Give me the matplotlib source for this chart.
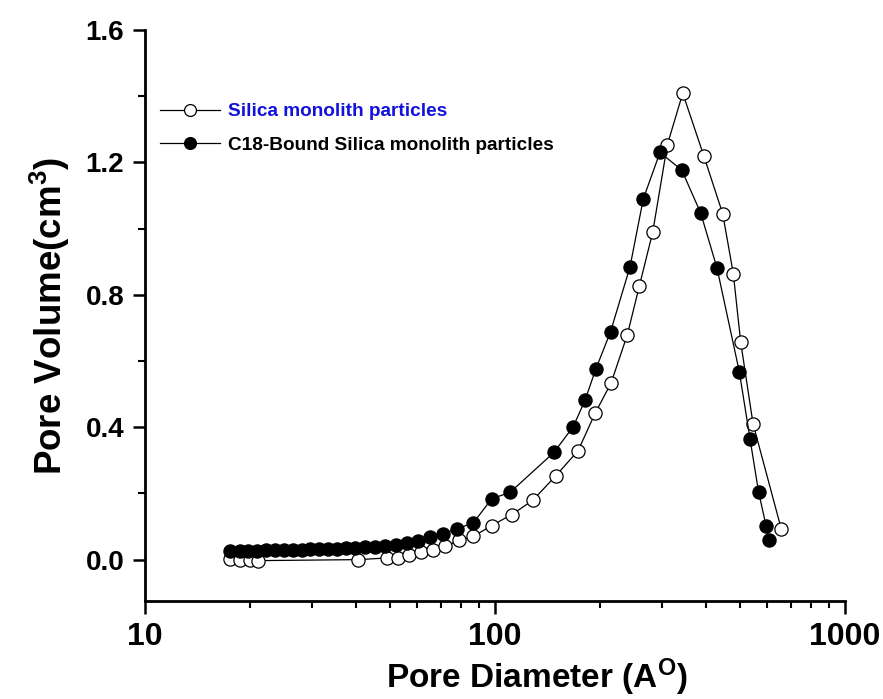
import matplotlib
matplotlib.use("Agg")
import matplotlib.pyplot as plt
from matplotlib.ticker import LogLocator, FixedLocator, NullFormatter, MultipleLocator

# ---- data ----
silica_d = [17.5, 18.7, 19.9, 21.1, 40.7, 49.1, 52.9, 56.8, 61.5, 66.6, 72.0, 79.1,
            86.7, 97.9, 111.6, 128.2, 149.4, 172.7, 193.4, 214.5, 238.8, 258.5,
            282.2, 310.7, 343.9, 395.5, 447.3, 479.6, 503.5, 546.0, 657.4]
silica_v = [0.003, 0.000, -0.002, -0.003, 0.000, 0.005, 0.006, 0.015, 0.024, 0.028,
            0.040, 0.058, 0.070, 0.103, 0.136, 0.179, 0.254, 0.329, 0.443, 0.533,
            0.679, 0.827, 0.989, 1.253, 1.409, 1.218, 1.045, 0.864, 0.657, 0.411, 0.093]

c18_d = [17.5, 18.7, 19.7, 20.9, 22.2, 23.5, 24.9, 26.4, 28.0, 29.6, 31.5, 33.4,
         35.3, 37.5, 39.8, 42.5, 45.4, 48.5, 52.1, 55.9, 60.4, 65.2, 71.2, 78.0,
         86.7, 97.9, 110.4, 147.4, 167.4, 180.7, 194.0, 213.8, 243.0, 265.3,
         296.0, 341.6, 387.0, 430.8, 498.9, 535.5, 566.2, 594.8, 605.8]
c18_v = [0.025, 0.026, 0.026, 0.027, 0.028, 0.028, 0.029, 0.029, 0.030, 0.031,
         0.032, 0.033, 0.033, 0.035, 0.036, 0.038, 0.039, 0.042, 0.045, 0.050,
         0.056, 0.069, 0.078, 0.093, 0.111, 0.184, 0.203, 0.324, 0.402, 0.481,
         0.575, 0.688, 0.884, 1.090, 1.230, 1.177, 1.047, 0.881, 0.568, 0.364,
         0.205, 0.103, 0.058]

label_silica = "Silica monolith particles"
label_c18 = "C18-Bound Silica monolith particles"
y_ticks = [0.0, 0.4, 0.8, 1.2, 1.6]
x_ticks = [10, 100, 1000]

# ---- style ----
plt.rcParams['font.family'] = ['Liberation Sans', 'DejaVu Sans']
plt.rcParams['font.weight'] = 'bold'
plt.rcParams['mathtext.fontset'] = 'custom'
plt.rcParams['mathtext.rm'] = 'Liberation Sans:bold'
plt.rcParams['mathtext.bf'] = 'Liberation Sans:bold'
plt.rcParams['mathtext.it'] = 'Liberation Sans:bold'

fig = plt.figure(figsize=(8.83, 6.99), dpi=100)
ax = fig.add_axes([145/883, 98/699, 700/883, 571/699])

ax.plot(silica_d, silica_v, '-o', color='black', lw=0.9, ms=9.5,
        mfc='white', mec='black', mew=0.9, label=label_silica, zorder=3)
ax.plot(c18_d, c18_v, '-o', color='black', lw=0.9, ms=9.5,
        mfc='black', mec='black', mew=0.9, label=label_c18, zorder=4)

ax.set_xscale('log')
ax.set_xlim(10, 1000)
ax.set_ylim(-0.125, 1.6)

for s in ['top', 'right']:
    ax.spines[s].set_visible(False)
for s in ['left', 'bottom']:
    ax.spines[s].set_linewidth(2.0)

ax.xaxis.set_major_locator(FixedLocator(x_ticks))
ax.xaxis.set_minor_locator(LogLocator(base=10, subs=range(2, 10)))
ax.xaxis.set_minor_formatter(NullFormatter())
ax.set_xticklabels([str(t) for t in x_ticks])
ax.set_yticks(y_ticks)
ax.set_yticklabels([f"{t:.1f}" for t in y_ticks])
ax.yaxis.set_minor_locator(MultipleLocator(0.2))

ax.tick_params(which='major', direction='out', length=9, width=1.8, labelsize=20, pad=6)
ax.tick_params(which='minor', direction='out', length=5, width=1.5)
for lab in ax.get_xticklabels():
    lab.set_fontweight('bold')
    lab.set_fontsize(23)

ax.set_xlabel(r'Pore Diameter (A$^{\mathregular{O}}$)', fontsize=24, fontweight='bold')
ax.xaxis.set_label_coords(0.56, -0.098)
ax.set_ylabel(r'Pore Volume(cm$^{3}$)', fontsize=26.5, fontweight='bold', labelpad=10)

leg = ax.legend(loc='upper left', bbox_to_anchor=(0.022, 0.872), frameon=False,
                prop={'family': 'Liberation Sans', 'weight': 'bold', 'size': 13.7},
                handlelength=3.15, handletextpad=0.42, labelspacing=0.85,
                borderpad=0, borderaxespad=0, markerscale=0.9)
leg.get_texts()[0].set_color('#1212dc')
leg.get_texts()[1].set_color('black')

fig.savefig('out.png', dpi=100)
